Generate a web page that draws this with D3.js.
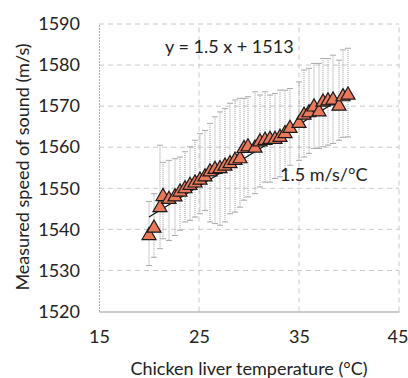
<!DOCTYPE html>
<html>
<head>
<meta charset="utf-8">
<script src="https://cdn.jsdelivr.net/npm/d3@7"></script>
<style>
  body { margin: 0; background: #fff; }
  text { font-family: Lato, "Open Sans", sans-serif; fill: #222; }
</style>
</head>
<body>
<svg id="chart" width="408" height="378"></svg>
<script>
"use strict";

// temperature (°C) of each reading
var temps = [20.0, 20.5, 21.1, 21.4, 22.0, 22.6, 23.1, 23.6, 24.1, 24.6,
             25.1, 25.6, 26.1, 26.6, 27.1, 27.6, 28.1, 28.6, 29.1, 29.5,
             29.9, 30.6, 31.1, 31.6, 32.1, 32.6, 33.1, 33.6, 34.1, 35.0,
             35.5, 36.0, 36.5, 37.0, 37.4, 37.9, 38.4, 39.0, 39.4, 39.9];

// measured speed of sound (m/s)
var speeds = [1538.5, 1540.3, 1545.3, 1548.0, 1547.3, 1547.9, 1549.1, 1549.9, 1550.7, 1551.3,
              1552.0, 1552.8, 1554.0, 1554.6, 1554.8, 1555.4, 1556.0, 1556.8, 1557.2, 1559.7,
              1560.1, 1559.8, 1561.3, 1561.7, 1561.9, 1561.9, 1562.4, 1563.3, 1564.6, 1565.8,
              1567.8, 1568.4, 1569.8, 1568.6, 1571.0, 1571.3, 1571.5, 1570.0, 1572.3, 1572.7];

// error bar ends
var errHigh = [1546.8, 1548.7, 1560.5, 1556.3, 1556.8, 1557.2, 1557.6, 1558.9, 1560.1, 1561.7,
               1563.3, 1564.1, 1565.8, 1567.4, 1568.6, 1569.4, 1570.7, 1571.5, 1571.9, 1571.9,
               1572.3, 1573.5, 1572.7, 1573.5, 1572.7, 1573.1, 1573.9, 1573.9, 1574.3, 1575.9,
               1578.8, 1579.2, 1580.4, 1580.4, 1581.6, 1581.6, 1582.4, 1581.2, 1583.7, 1584.1];
var errLow = [1531.2, 1533.2, 1535.3, 1537.7, 1537.3, 1538.5, 1539.8, 1541.8, 1542.2, 1543.0,
              1543.8, 1544.6, 1541.8, 1541.4, 1541.0, 1541.8, 1543.8, 1544.2, 1545.4, 1547.1,
              1547.9, 1548.7, 1550.3, 1551.5, 1551.5, 1552.4, 1552.8, 1554.4, 1555.6, 1556.8,
              1557.6, 1558.5, 1559.7, 1559.7, 1560.1, 1560.5, 1560.9, 1561.7, 1562.4, 1562.5];

var xTicks = [15, 25, 35, 45];
var yTicks = [1520, 1530, 1540, 1550, 1560, 1570, 1580, 1590];

// fitted line y = 1.5 x + 1513
var fitSlope = 1.5, fitIntercept = 1513, fitRange = [20, 40];

var svg = d3.select("#chart");

var x = d3.scaleLinear().domain([15, 45]).range([99, 399]);
var y = d3.scaleLinear().domain([1520, 1590]).range([311.5, 24]);

// grid
svg.append("g").selectAll("line")
    .data(yTicks.slice(1))
    .enter().append("line")
    .attr("x1", x(15)).attr("x2", x(45))
    .attr("y1", function (d) { return y(d); })
    .attr("y2", function (d) { return y(d); })
    .attr("stroke", "#c8c8c8")
    .attr("stroke-dasharray", "5,4");

svg.append("g").selectAll("line")
    .data(xTicks.slice(1))
    .enter().append("line")
    .attr("x1", function (d) { return x(d); })
    .attr("x2", function (d) { return x(d); })
    .attr("y1", y(1520)).attr("y2", y(1590))
    .attr("stroke", "#c8c8c8")
    .attr("stroke-dasharray", "5,4");

// axes
var xAxis = svg.append("g")
    .attr("transform", "translate(0," + y(1520) + ")")
    .call(d3.axisBottom(x).tickValues(xTicks).tickSize(0).tickPadding(19));
var yAxis = svg.append("g")
    .attr("transform", "translate(" + x(15) + ",0)")
    .call(d3.axisLeft(y).tickValues(yTicks).tickFormat(d3.format("d")).tickSize(0).tickPadding(19));

xAxis.select(".domain").attr("stroke", "#999").attr("stroke-width", 1.2);
yAxis.select(".domain").attr("stroke", "#aaa").attr("stroke-dasharray", "2,1");
svg.selectAll(".tick text").style("font-size", "18px").attr("fill", "#222");
// last x label sits right at the edge of the picture
xAxis.selectAll(".tick text").filter(function (d) { return d === 45; })
    .attr("text-anchor", "end").attr("dx", "9px");

// error bars
var bars = svg.append("g");
temps.forEach(function (t, i) {
    var cx = x(t);
    bars.append("line")
        .attr("x1", cx).attr("x2", cx)
        .attr("y1", y(errLow[i])).attr("y2", y(errHigh[i]))
        .attr("stroke", "#999")
        .attr("stroke-dasharray", "1,1");
    [errLow[i], errHigh[i]].forEach(function (v) {
        bars.append("line")
            .attr("x1", cx - 3).attr("x2", cx + 3)
            .attr("y1", y(v)).attr("y2", y(v))
            .attr("stroke", "#aaa");
    });
});

// fit line
svg.append("line")
    .attr("x1", x(fitRange[0])).attr("y1", y(fitSlope * fitRange[0] + fitIntercept))
    .attr("x2", x(fitRange[1])).attr("y2", y(fitSlope * fitRange[1] + fitIntercept))
    .attr("stroke", "#111")
    .attr("stroke-width", 1.2);

// points
var tri = d3.symbol().type(d3.symbolTriangle).size(85);
svg.append("g").selectAll("path")
    .data(temps)
    .enter().append("path")
    .attr("d", tri)
    .attr("transform", function (d, i) { return "translate(" + x(d) + "," + y(speeds[i]) + ")"; })
    .attr("fill", "#e8795a")
    .attr("stroke", "#1a1a1a")
    .attr("stroke-width", 1.2);

// annotations
svg.append("text")
    .attr("x", 165).attr("y", 53)
    .style("font-size", "18px")
    .text("y = 1.5 x + 1513");

svg.append("text")
    .attr("x", 280).attr("y", 181)
    .style("font-size", "18px")
    .text("1.5 m/s/°C");

// axis titles
svg.append("text")
    .attr("x", 249).attr("y", 375)
    .attr("text-anchor", "middle")
    .style("font-size", "18px")
    .text("Chicken liver temperature (°C)");

svg.append("text")
    .attr("transform", "translate(29,167) rotate(-90)")
    .attr("text-anchor", "middle")
    .style("font-size", "18px")
    .text("Measured speed of sound (m/s)");
</script>
</body>
</html>
